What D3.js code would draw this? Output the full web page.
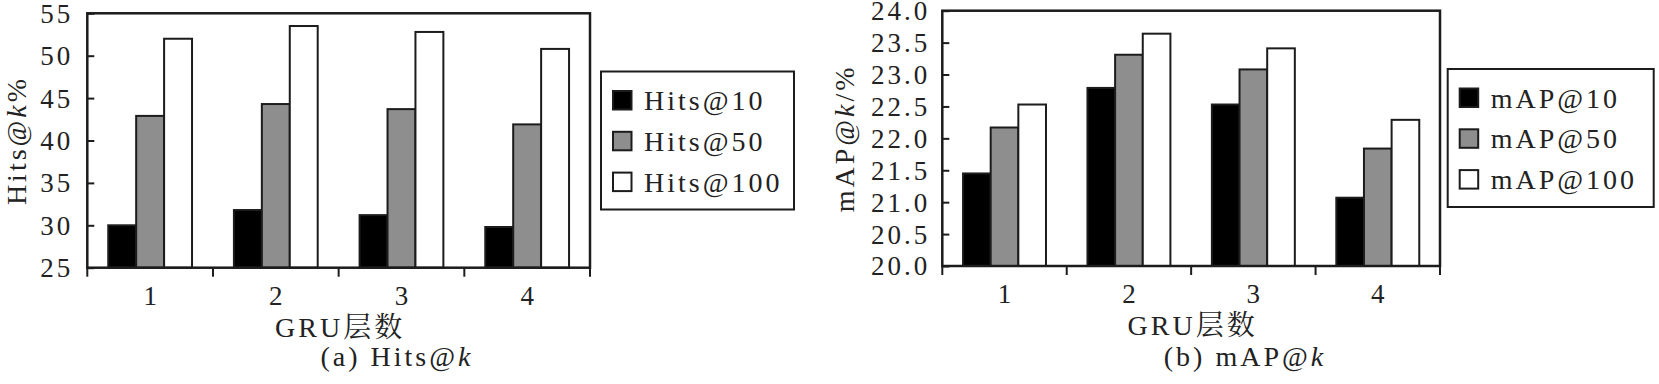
<!DOCTYPE html>
<html>
<head>
<meta charset="utf-8">
<script src="https://cdn.jsdelivr.net/npm/d3@7"></script>
<style>
  body { margin: 0; background: #fff; }
</style>
</head>
<body>
<svg id="chart" width="1659" height="384"></svg>
<script>
var layers = ["1", "2", "3", "4"];

var hitsSeries = ["Hits@10", "Hits@50", "Hits@100"];
var hits10 = [30.0, 31.8, 31.2, 29.8];
var hits50 = [42.9, 44.3, 43.7, 41.9];
var hits100 = [52.0, 53.5, 52.8, 50.8];
var hitsTicks = [25, 30, 35, 40, 45, 50, 55];

var mapSeries = ["mAP@10", "mAP@50", "mAP@100"];
var map10 = [21.45, 22.79, 22.53, 21.07];
var map50 = [22.17, 23.31, 23.08, 21.84];
var map100 = [22.53, 23.64, 23.41, 22.29];
var mapTicks = [20.0, 20.5, 21.0, 21.5, 22.0, 22.5, 23.0, 23.5, 24.0];

var fills = ["#000000", "#8e8e8e", "#ffffff"];
var ink = "#1c1c1c";
var serif = "'Liberation Serif', 'DejaVu Serif', 'Noto Serif CJK SC', 'Noto Sans CJK SC', serif";

var svg = d3.select("#chart")
    .attr("font-family", serif)
    .style("font-family", serif)
    .attr("fill", "#222")
    .style("letter-spacing", "3px");

function drawPanel(cfg) {
    var g = svg.append("g");

    var x0 = d3.scaleBand().domain(layers).range([cfg.left, cfg.right]).padding(0);
    var x1 = d3.scaleBand().domain(cfg.series).range([0, x0.bandwidth()])
               .paddingInner(0).paddingOuter(0.75);
    var y = d3.scaleLinear().domain(cfg.domain).range([cfg.bottom, cfg.top]);

    var rows = layers.map(function(l, i) {
        return cfg.series.map(function(s, j) {
            return { layer: l, key: s, idx: j, value: cfg.values[j][i] };
        });
    });

    // bars
    g.append("g").selectAll("g")
     .data(rows)
     .enter().append("g")
     .attr("transform", function(d) { return "translate(" + x0(d[0].layer) + ",0)"; })
     .selectAll("rect")
     .data(function(d) { return d; })
     .enter().append("rect")
     .attr("x", function(d) { return x1(d.key); })
     .attr("y", function(d) { return y(d.value); })
     .attr("width", x1.bandwidth())
     .attr("height", function(d) { return cfg.bottom - y(d.value); })
     .attr("fill", function(d) { return fills[d.idx]; })
     .attr("stroke", ink)
     .attr("stroke-width", 2);

    // frame
    g.append("rect")
     .attr("x", cfg.left).attr("y", cfg.top)
     .attr("width", cfg.right - cfg.left).attr("height", cfg.bottom - cfg.top)
     .attr("fill", "none").attr("stroke", ink).attr("stroke-width", 2.5);

    // y axis: inward ticks
    var yAxis = d3.axisRight(y).tickValues(cfg.ticks).tickSize(7).tickFormat("");
    var ya = g.append("g").attr("transform", "translate(" + cfg.left + ",0)").call(yAxis);
    ya.select(".domain").remove();
    ya.selectAll("line").attr("stroke", ink).attr("stroke-width", 2);

    g.append("g").selectAll("text")
     .data(cfg.ticks)
     .enter().append("text")
     .attr("x", cfg.left - cfg.labelGap)
     .attr("y", function(d) { return y(d); })
     .attr("dy", "0.35em")
     .attr("text-anchor", "end")
     .style("font-size", "27px")
     .text(function(d) { return d3.format(cfg.fmt)(d); });

    // x axis: boundary ticks pointing down
    var bounds = layers.map(function(l) { return x0(l); }).concat([cfg.right]);
    g.append("g").selectAll("line")
     .data(bounds)
     .enter().append("line")
     .attr("x1", function(d) { return d; }).attr("x2", function(d) { return d; })
     .attr("y1", cfg.bottom).attr("y2", cfg.bottom + 9)
     .attr("stroke", ink).attr("stroke-width", 2);

    g.append("g").selectAll("text")
     .data(layers)
     .enter().append("text")
     .attr("x", function(d) { return x0(d) + x0.bandwidth() / 2 + 1.5; })
     .attr("y", cfg.bottom + 37)
     .attr("text-anchor", "middle")
     .style("font-size", "27px")
     .text(function(d) { return d; });

    // axis titles
    g.append("text")
     .attr("x", (cfg.left + cfg.right) / 2 + 1.5)
     .attr("y", cfg.bottom + 69)
     .attr("text-anchor", "middle")
     .style("font-size", "28px")
     .text("GRU层数");

    var yt = g.append("text")
     .attr("transform", "translate(" + cfg.yTitleX + "," + ((cfg.top + cfg.bottom) / 2) + ") rotate(-90)")
     .attr("text-anchor", "middle")
     .style("font-size", "28px");
    yt.append("tspan").text(cfg.yTitle[0]);
    yt.append("tspan").style("font-style", "italic").text("k");
    yt.append("tspan").text(cfg.yTitle[1]);

    // caption
    var cap = g.append("text")
     .attr("x", cfg.capX)
     .attr("y", 366)
     .attr("text-anchor", "middle")
     .style("font-size", "28px");
    cap.append("tspan").text(cfg.caption);
    cap.append("tspan").style("font-style", "italic").text("k");

    // legend
    var lg = g.append("g").attr("transform", "translate(" + cfg.legend[0] + "," + cfg.legend[1] + ")");
    lg.append("rect")
      .attr("width", cfg.legend[2]).attr("height", 138)
      .attr("fill", "#fff").attr("stroke", ink).attr("stroke-width", 2);
    var item = lg.selectAll("g.item")
      .data(cfg.series)
      .enter().append("g")
      .attr("class", "item")
      .attr("transform", function(d, i) { return "translate(12," + (28.5 + i * 40.8) + ")"; });
    item.append("rect")
      .attr("x", 0).attr("y", -9)
      .attr("width", 18.5).attr("height", 18.5)
      .attr("fill", function(d, i) { return fills[i]; })
      .attr("stroke", ink).attr("stroke-width", 2);
    item.append("text")
      .attr("x", 31).attr("y", 10)
      .style("font-size", "28px")
      .text(function(d) { return d; });
}

drawPanel({
    left: 87.3, right: 590, top: 13.3, bottom: 267.7,
    domain: [25, 55], ticks: hitsTicks, fmt: "d", labelGap: 14,
    series: hitsSeries, values: [hits10, hits50, hits100],
    yTitle: ["Hits@", "%"], yTitleX: 26,
    caption: "(a) Hits@", capX: 397,
    legend: [601, 71.5, 193]
});

drawPanel({
    left: 942.3, right: 1440, top: 10.7, bottom: 266,
    domain: [20, 24], ticks: mapTicks, fmt: ".1f", labelGap: 12,
    series: mapSeries, values: [map10, map50, map100],
    yTitle: ["mAP@", "/%"], yTitleX: 854,
    caption: "(b) mAP@", capX: 1245,
    legend: [1447.7, 69, 206]
});
</script>
</body>
</html>
